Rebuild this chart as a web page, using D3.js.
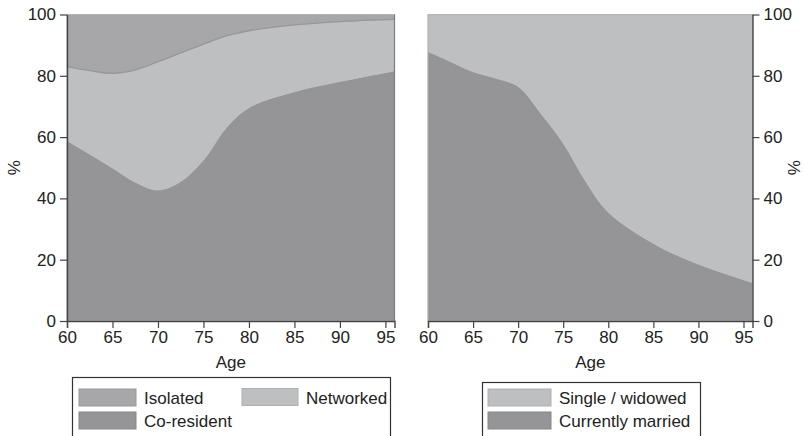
<!DOCTYPE html>
<html>
<head>
<meta charset="utf-8">
<script src="https://cdn.jsdelivr.net/npm/d3@7"></script>
<style>
  html, body { margin: 0; padding: 0; background: #fff; }
  svg text { font-family: "Liberation Sans", Arial, Helvetica, sans-serif; fill: #222; }
</style>
</head>
<body>
<svg id="chart" width="804" height="436"></svg>
<script>
// Living arrangements by age (left) and marital status by age (right), in %
const ages = [60, 62.5, 65, 67.5, 70, 72.5, 75, 77.5, 80, 85, 90, 96];
const coResident = [58.8, 54.4, 49.9, 45.3, 42.7, 45.5, 52.5, 63.0, 69.6, 74.8, 78.1, 81.6];
const networked  = [24.2, 27.3, 30.9, 36.6, 41.9, 42.0, 37.8, 30.0, 25.1, 21.8, 19.6, 16.8];
const isolated   = [17.0, 18.3, 19.2, 18.1, 15.4, 12.5, 9.7, 7.0, 5.3, 3.4, 2.3, 1.6];

const married = [87.9, 84.6, 81.3, 79.2, 76.5, 67.8, 58.0, 45.5, 35.5, 25.3, 18.5, 12.5];
const single  = [12.1, 15.4, 18.7, 20.8, 23.5, 32.2, 42.0, 54.5, 64.5, 74.7, 81.5, 87.5];

const xTicks = [60, 65, 70, 75, 80, 85, 90, 95];
const yTicks = [0, 20, 40, 60, 80, 100];

const colors = {
  isolated: "#a7a7aa",
  networked: "#bebfc1",
  coResident: "#959597",
  single: "#bebfc1",
  married: "#959597"
};

const svg = d3.select("#chart");
const yTop = 14.5, yBottom = 321;
const y = d3.scaleLinear().domain([0, 100]).range([yBottom, yTop]);
const curve = d3.curveCatmullRom.alpha(0.5);

function panel(opts) {
  const x = d3.scaleLinear().domain([60, 96]).range([opts.x0, opts.x1]);
  const rows = ages.map((a, i) => {
    const r = { age: a };
    opts.keys.forEach(k => r[k] = opts.series[k][i]);
    return r;
  });
  const stacked = d3.stack().keys(opts.keys)(rows);
  const area = d3.area()
    .x(d => x(d.data.age))
    .y0(d => y(d[0]))
    .y1(d => y(d[1]))
    .curve(curve);

  const g = svg.append("g");
  g.selectAll("path.layer")
    .data(stacked)
    .join("path")
    .attr("class", "layer")
    .attr("d", area)
    .attr("fill", d => colors[d.key])
    .attr("stroke", d => colors[d.key])
    .attr("stroke-width", 0.5);

  // edge line between the two upper layers
  if (opts.edgeKey) {
    const layer = stacked.find(s => s.key === opts.edgeKey);
    const line = d3.line()
      .x(d => x(d.data.age))
      .y(d => y(d[1]))
      .curve(curve);
    g.append("path")
      .attr("d", line(layer))
      .attr("fill", "none")
      .attr("stroke", "#97979a")
      .attr("stroke-width", 1.3);
  }

  // plot frame
  g.append("rect")
    .attr("x", opts.x0).attr("y", yTop)
    .attr("width", opts.x1 - opts.x0).attr("height", yBottom - yTop)
    .attr("fill", "none").attr("stroke", "#b4b4b6").attr("stroke-width", 1);
  if (!opts.rightAxis) {
    g.append("line")
      .attr("x1", opts.x1).attr("x2", opts.x1)
      .attr("y1", yTop).attr("y2", yBottom)
      .attr("stroke", "#7c7c7e").attr("stroke-width", 1.2);
  }

  // x axis
  const xa = g.append("g")
    .attr("transform", `translate(0,${yBottom})`)
    .call(d3.axisBottom(x).tickValues(xTicks).tickSize(7).tickPadding(3).tickFormat(d3.format("d")));
  xa.select(".domain").attr("stroke", "#444").attr("stroke-width", 1.4);
  xa.selectAll(".tick line").attr("stroke", "#444").attr("stroke-width", 1.2);
  xa.selectAll("text").style("font-size", "17px").attr("fill", "#222")
    .style("font-family", "'Liberation Sans', Arial, sans-serif");

  // y axis
  const yAxis = opts.rightAxis ? d3.axisRight(y) : d3.axisLeft(y);
  const ya = g.append("g")
    .attr("transform", `translate(${opts.rightAxis ? opts.x1 : opts.x0},0)`)
    .call(yAxis.tickValues(yTicks).tickSize(7).tickPadding(4).tickSizeOuter(0));
  ya.select(".domain").attr("stroke", "#444").attr("stroke-width", 1.4);
  ya.selectAll(".tick line").attr("stroke", "#444").attr("stroke-width", 1.2);
  ya.selectAll("text").style("font-size", "17px").attr("fill", "#222")
    .style("font-family", "'Liberation Sans', Arial, sans-serif");

  // axis titles
  g.append("text")
    .attr("x", (opts.x0 + opts.x1) / 2).attr("y", 368)
    .attr("text-anchor", "middle").style("font-size", "17px")
    .text("Age");
  g.append("text")
    .attr("transform", `translate(${opts.rightAxis ? 800 : 20},${(yTop + yBottom) / 2}) rotate(-90)`)
    .attr("text-anchor", "middle").style("font-size", "17px")
    .text("%");

  // legend
  const L = opts.legend;
  const lg = g.append("g");
  lg.append("rect")
    .attr("x", L.x + 0.5).attr("y", L.y + 0.5)
    .attr("width", L.w).attr("height", 70)
    .attr("fill", "#fff").attr("stroke", "#333").attr("stroke-width", 1.2);
  L.items.forEach(it => {
    lg.append("rect")
      .attr("x", it.sx).attr("y", it.sy)
      .attr("width", it.sw).attr("height", 17)
      .attr("fill", colors[it.key])
      .attr("stroke", d3.color(colors[it.key]).darker(0.25)).attr("stroke-width", 1);
    lg.append("text")
      .attr("x", it.sx + it.sw + 8).attr("y", it.sy + 15)
      .style("font-size", "17px")
      .text(it.label);
  });
}

panel({
  x0: 67, x1: 394.5,
  keys: ["coResident", "networked", "isolated"],
  series: { coResident, networked, isolated },
  edgeKey: "networked",
  rightAxis: false,
  legend: {
    x: 72, y: 377, w: 318,
    items: [
      { key: "isolated", label: "Isolated", sx: 79, sy: 389, sw: 57 },
      { key: "networked", label: "Networked", sx: 242, sy: 388.5, sw: 56 },
      { key: "coResident", label: "Co-resident", sx: 79, sy: 412, sw: 57 }
    ]
  }
});

panel({
  x0: 428, x1: 752.5,
  keys: ["married", "single"],
  series: { married, single },
  edgeKey: null,
  rightAxis: true,
  legend: {
    x: 482, y: 382, w: 218,
    items: [
      { key: "single", label: "Single / widowed", sx: 488, sy: 389, sw: 63 },
      { key: "married", label: "Currently married", sx: 488, sy: 412, sw: 63 }
    ]
  }
});
</script>
</body>
</html>
